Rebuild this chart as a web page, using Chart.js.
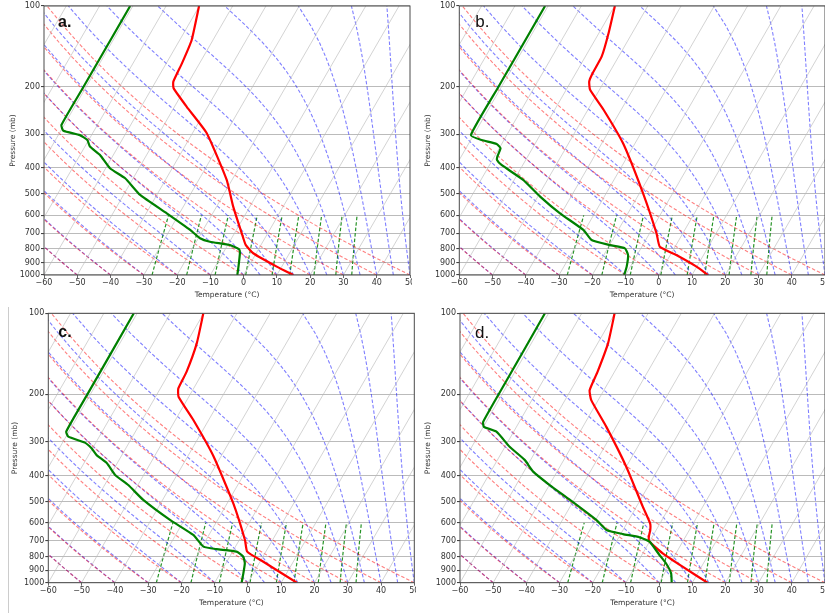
<!DOCTYPE html>
<html lang="en">
<head>
<meta charset="UTF-8">
<title>Skew-T soundings</title>
<script src="https://cdn.jsdelivr.net/npm/chart.js"></script>
<style>
  body { margin: 0; background: #ffffff; }
  #page { position: relative; width: 825px; height: 613px; overflow: hidden; background: #ffffff; }
  .panel { position: absolute; }
  .edge { position: absolute; width: 1px; background: #cccccc; }
</style>
</head>
<body>
<div id="page">
  <div class="edge" style="left:8px; top:307px; height:306px;"></div>
  <canvas id="skewA" class="panel"></canvas>
  <canvas id="skewB" class="panel"></canvas>
  <canvas id="skewC" class="panel"></canvas>
  <canvas id="skewD" class="panel"></canvas>
</div>
<script>
// axis ticks
const X_TICKS = [-60, -50, -40, -30, -20, -10, 0, 10, 20, 30, 40, 50];
const P_TICKS = [100, 200, 300, 400, 500, 600, 700, 800, 900, 1000];

// background reference lines (MetPy defaults)
const ISOTHERMS = [-100, -90, -80, -70, -60, -50, -40, -30, -20, -10, 0, 10, 20, 30, 40, 50];
const DRY_THETA = [-60, -50, -40, -30, -20, -10, 0, 10, 20, 30, 40, 50];
const MOIST_T0 = [-60, -50, -40, -30, -20, -10, 0, 5, 10, 15, 20, 25, 30, 35, 40, 45, 50];
const MIX_RATIOS = [0.0004, 0.001, 0.002, 0.004, 0.007, 0.01, 0.016, 0.024, 0.032];

// panel a
const PRES_T_A = [1000, 931, 830, 773, 700, 557, 443, 297, 237, 202, 191, 163, 134, 100];
const TEMP_A   = [14.9, 8.5, -0.9, -4.6, -7.8, -15.0, -21.6, -35.7, -46.3, -53.5, -54.7, -55.3, -56.4, -60.1];
const PRES_D_A = [1000, 931, 830, 803, 774, 752, 730, 680, 590, 504, 437, 401, 358, 333, 315, 302, 291, 277, 200, 100];
const DEWP_A   = [-1.9, -3.0, -4.9, -5.8, -9.3, -15.9, -19.5, -23.9, -33.8, -45.0, -52.4, -58.7, -64.0, -68.5, -70.4, -73.5, -79.2, -80.8, -80.8, -80.8];

// panel b
const PRES_T_B = [1000, 931, 843, 785, 700, 497, 324, 243, 205, 191, 180, 154, 126, 100];
const TEMP_B   = [14.8, 9.9, 1.8, -4.6, -7.9, -18.9, -33.6, -45.3, -52.8, -54.5, -54.9, -55.1, -57.1, -59.9];
const PRES_D_B = [1000, 931, 843, 796, 774, 741, 680, 590, 511, 443, 390, 374, 363, 338, 326, 315, 302, 200, 100];
const DEWP_B   = [-10.4, -11.1, -12.7, -14.8, -19.9, -26.3, -30.5, -40.4, -49.3, -57.3, -66.4, -68.6, -69.1, -69.6, -71.5, -76.7, -80.8, -80.9, -80.9];

// panel c
const PRES_T_C = [1000, 836, 767, 694, 507, 340, 249, 204, 190, 165, 129, 100];
const TEMP_C   = [14.7, 1.0, -5.6, -8.3, -18.2, -32.2, -44.6, -53.1, -54.6, -55.0, -56.9, -60.1];
const PRES_D_C = [1000, 923, 847, 801, 767, 751, 735, 665, 585, 493, 434, 398, 360, 336, 317, 302, 287, 275, 200, 100];
const DEWP_C   = [-1.9, -3.0, -4.3, -5.9, -8.8, -15.2, -19.6, -24.7, -34.3, -45.8, -52.9, -58.6, -63.1, -67.6, -70.3, -73.3, -79.3, -80.8, -80.9, -81.0];

// panel d
const PRES_T_D = [1000, 872, 778, 704, 678, 637, 602, 522, 371, 264, 210, 193, 165, 129, 100];
const TEMP_D   = [14.6, 4.3, -4.0, -10.0, -11.0, -11.8, -13.0, -18.1, -30.0, -42.9, -52.1, -54.3, -55.1, -56.9, -60.1];
const PRES_D_D = [1000, 923, 847, 789, 704, 678, 660, 637, 585, 493, 434, 387, 350, 313, 275, 264, 253, 180, 100];
const DEWP_D   = [3.8, 2.0, -1.3, -4.7, -10.0, -13.8, -19.3, -25.0, -29.8, -41.2, -49.9, -57.2, -61.8, -68.6, -75.2, -79.8, -80.9, -81.0, -81.1];

const PANEL_LABELS = ['a.', 'b.', 'c.', 'd.'];

// where each panel sits on the page
const LAYOUT = [
  { id: 'skewA', left: 0,   top: 0,   w: 412, h: 300, axisW: 44,   axisH: 25,   padTop: 6,   padRight: 2,   yTitle: 8.2, xTitle: 0.6, lx: 14, ly: 20.5, bold: true },
  { id: 'skewB', left: 415, top: 0,   w: 410, h: 300, axisW: 44.3, axisH: 25,   padTop: 6,   padRight: 0,   yTitle: 8.8, xTitle: 0.6, lx: 16, ly: 20.7, bold: false },
  { id: 'skewC', left: 4,   top: 307, w: 412, h: 306, axisW: 44.3, axisH: 30.3, padTop: 6.3, padRight: 1.7, yTitle: 6.5, xTitle: 5.3, lx: 10, ly: 24,   bold: true },
  { id: 'skewD', left: 416, top: 307, w: 409, h: 306, axisW: 44,   axisH: 30.3, padTop: 6.3, padRight: 0,   yTitle: 7.8, xTitle: 5.3, lx: 15, ly: 24.4, bold: false }
];

const PROFILES = [
  [PRES_T_A, TEMP_A, PRES_D_A, DEWP_A],
  [PRES_T_B, TEMP_B, PRES_D_B, DEWP_B],
  [PRES_T_C, TEMP_C, PRES_D_C, DEWP_C],
  [PRES_T_D, TEMP_D, PRES_D_D, DEWP_D]
];

// skew: degrees C of x shift per decade of pressure (30 deg lean)
const SKEW = 46.7;
const RD = 287.04749, CP = 1004.6662, LV = 2.50084e6, EPS = 0.6219569, KAPPA = RD / CP;

const P_GRID = [];
for (let i = 0; i < 50; i++) P_GRID.push(1000 - i * 900 / 49);
const P_MIX = [];
for (let i = 0; i < 50; i++) P_MIX.push(1000 - i * 400 / 49);

function skewX(t, p) { return t + SKEW * Math.log10(1000 / p); }
function satVapor(tK) { const c = tK - 273.15; return 6.112 * Math.exp(17.67 * c / (c + 243.5)); }
function dewpointFromVapor(e) { const v = Math.log(e / 6.112); return 243.5 * v / (17.67 - v); }

function moistSlope(p, tK) {
  const es = satVapor(tK);
  const rs = EPS * es / (p - es);
  return (RD * tK + LV * rs) / (CP + LV * LV * rs * EPS / (RD * tK * tK)) / p;
}

function moistLine(t0) {
  let tK = t0 + 273.15;
  const pts = [{ x: skewX(t0, 1000), y: 1000 }];
  for (let i = 1; i < P_GRID.length; i++) {
    const n = 4, h = (P_GRID[i] - P_GRID[i - 1]) / n;
    let p = P_GRID[i - 1];
    for (let k = 0; k < n; k++) {
      const k1 = moistSlope(p, tK);
      const k2 = moistSlope(p + h / 2, tK + h / 2 * k1);
      const k3 = moistSlope(p + h / 2, tK + h / 2 * k2);
      const k4 = moistSlope(p + h, tK + h * k3);
      tK += h / 6 * (k1 + 2 * k2 + 2 * k3 + k4);
      p += h;
    }
    pts.push({ x: skewX(tK - 273.15, P_GRID[i]), y: P_GRID[i] });
  }
  return pts;
}

function dryLine(theta) {
  return P_GRID.map(p => ({ x: skewX((theta + 273.15) * Math.pow(p / 1000, KAPPA) - 273.15, p), y: p }));
}

function mixLine(w) {
  return P_MIX.map(p => ({ x: skewX(dewpointFromVapor(p * w / (EPS + w)), p), y: p }));
}

function profile(pres, vals) {
  return pres.map((p, i) => ({ x: skewX(vals[i], p), y: p }));
}

function line(points, color, width, dash, tension) {
  return {
    data: points, borderColor: color, borderWidth: width, borderDash: dash || [],
    showLine: true, pointRadius: 0, fill: false, tension: tension || 0
  };
}

function backgroundSets() {
  const sets = [];
  ISOTHERMS.forEach(t => sets.push(line([{ x: skewX(t, 1000), y: 1000 }, { x: skewX(t, 100), y: 100 }], 'rgba(185,185,185,0.8)', 0.8)));
  DRY_THETA.forEach(t => sets.push(line(dryLine(t), 'rgba(255,0,0,0.5)', 1.1, [3.5, 2])));
  MOIST_T0.forEach(t => sets.push(line(moistLine(t), 'rgba(0,0,255,0.5)', 1.1, [3.5, 2])));
  MIX_RATIOS.forEach(w => sets.push(line(mixLine(w), 'rgba(0,128,0,0.85)', 1.2, [3.5, 2])));
  return sets;
}

const framePlugin = {
  id: 'frame',
  afterDatasetsDraw(chart, args, opts) {
    const { ctx, chartArea: a } = chart;
    ctx.save();
    ctx.strokeStyle = '#4a4a4a';
    ctx.lineWidth = 1;
    ctx.strokeRect(a.left, a.top, a.right - a.left, a.bottom - a.top);
    ctx.fillStyle = '#111';
    ctx.font = (opts.bold ? 'bold 16px' : '17px') + ' "Liberation Sans", Arial, sans-serif';
    ctx.textBaseline = 'alphabetic';
    ctx.fillText(opts.label, a.left + opts.lx, a.top + opts.ly);
    ctx.restore();
  }
};

const tickFont = { family: 'DejaVu Sans', size: 8 };
const titleFont = { family: 'DejaVu Sans', size: 7.5 };

LAYOUT.forEach((box, idx) => {
  const canvas = document.getElementById(box.id);
  canvas.width = box.w;
  canvas.height = box.h;
  canvas.style.left = box.left + 'px';
  canvas.style.top = box.top + 'px';

  const [pt, tt, pd, td] = PROFILES[idx];
  const datasets = [
    line(profile(pd, td), '#008000', 2.2, [], 0.15),
    line(profile(pt, tt), '#ff0000', 2.2, [], 0.15)
  ].concat(backgroundSets());

  new Chart(canvas, {
    type: 'scatter',
    data: { datasets: datasets },
    options: {
      responsive: false,
      animation: false,
      events: [],
      layout: { padding: { top: box.padTop, right: box.padRight, left: 0, bottom: 0 } },
      plugins: {
        legend: { display: false },
        tooltip: { enabled: false },
        frame: { label: PANEL_LABELS[idx], bold: box.bold, lx: box.lx, ly: box.ly }
      },
      scales: {
        x: {
          type: 'linear', min: -60, max: 50,
          afterBuildTicks: s => { s.ticks = X_TICKS.map(v => ({ value: v })); },
          afterFit: s => { s.height = box.axisH; s.paddingLeft = 0; s.paddingRight = 0; },
          ticks: {
            autoSkip: false, maxRotation: 0, padding: 0.5, color: '#333', font: tickFont,
            callback: v => v < 0 ? '\u2212' + Math.abs(v) : String(v)
          },
          grid: { drawOnChartArea: false, color: '#444', tickLength: 3, lineWidth: 0.8 },
          border: { display: false },
          title: { display: true, text: 'Temperature (\u00B0C)', color: '#333', font: titleFont, padding: { top: 0, bottom: box.xTitle } }
        },
        y: {
          type: 'logarithmic', min: 100, max: 1000, reverse: true,
          afterBuildTicks: s => { s.ticks = P_TICKS.map(v => ({ value: v })); },
          afterFit: s => { s.width = box.axisW; s.paddingTop = 0; s.paddingBottom = 0; },
          ticks: { autoSkip: false, padding: 1, color: '#333', font: tickFont, callback: v => String(v) },
          grid: { color: 'rgba(170,170,170,0.8)', lineWidth: 1.1, tickColor: '#444', tickLength: 3 },
          border: { display: false },
          title: { display: true, text: 'Pressure (mb)', color: '#333', font: titleFont, padding: { top: box.yTitle, bottom: 0 } }
        }
      }
    },
    plugins: [framePlugin]
  });
});
</script>
</body>
</html>
